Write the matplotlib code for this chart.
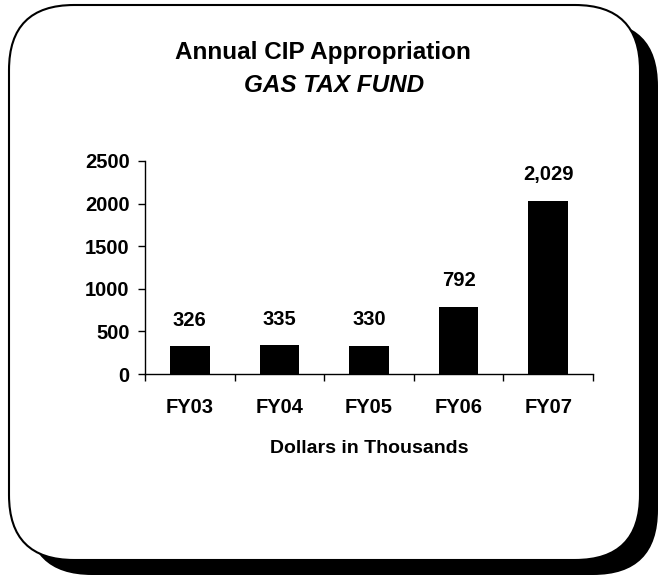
import matplotlib.pyplot as plt
from matplotlib.patches import FancyBboxPatch

plt.rcParams['font.family'] = ['Liberation Sans', 'DejaVu Sans']
plt.rcParams['font.weight'] = 'bold'

years = ['FY03', 'FY04', 'FY05', 'FY06', 'FY07']
amounts = [326, 335, 330, 792, 2029]
yticks = [0, 500, 1000, 1500, 2000, 2500]

W, H = 662, 577
fig = plt.figure(figsize=(W / 100, H / 100), dpi=100)

# background frame with shadow (pixel coords, y down)
bg = fig.add_axes([0, 0, 1, 1])
bg.set_xlim(0, W)
bg.set_ylim(H, 0)
bg.axis('off')
shadow = FancyBboxPatch((27, 21), 631, 554, boxstyle='round,pad=0,rounding_size=65',
                        fc='black', ec='black', lw=0)
box = FancyBboxPatch((9, 5), 631, 555, boxstyle='round,pad=0,rounding_size=65',
                     fc='white', ec='black', lw=1.5)
bg.add_patch(shadow)
bg.add_patch(box)

fig.text(323 / W, 1 - 53 / H, 'Annual CIP Appropriation', ha='center', va='center',
         fontsize=17.5, fontweight='bold')
fig.text(334 / W, 1 - 86 / H, 'GAS TAX FUND', ha='center', va='center',
         fontsize=17.5, fontweight='bold', style='italic')

ax = fig.add_axes([145 / W, (H - 374) / H, 448 / W, (374 - 161) / H])
ax.patch.set_alpha(0)
x = range(len(years))
ax.bar(x, amounts, width=0.44, color='black')
for xi, v in zip(x, amounts):
    ax.annotate(f'{v:,}', (xi, v), xytext=(0, 12), textcoords='offset points',
                ha='center', va='bottom', fontsize=14.5, fontweight='bold')

ax.set_xlim(-0.5, len(years) - 0.5)
ax.set_ylim(0, 2500)
ax.set_yticks(yticks)
ax.set_xticks(list(x))
ax.set_xticklabels(years)
ax.set_xticks([i - 0.5 for i in range(len(years) + 1)], minor=True)
ax.tick_params(axis='x', which='major', length=0, pad=17, labelsize=14.5)
ax.tick_params(axis='x', which='minor', length=5, width=1, direction='out')
ax.tick_params(axis='y', length=5, width=1, direction='out', pad=6, labelsize=14.5)
for s in ['top', 'right']:
    ax.spines[s].set_visible(False)
ax.spines['left'].set_linewidth(1)
ax.spines['bottom'].set_linewidth(1)
ax.set_xlabel('Dollars in Thousands', fontsize=14, fontweight='bold', labelpad=17)

fig.savefig('out.png', dpi=100)
